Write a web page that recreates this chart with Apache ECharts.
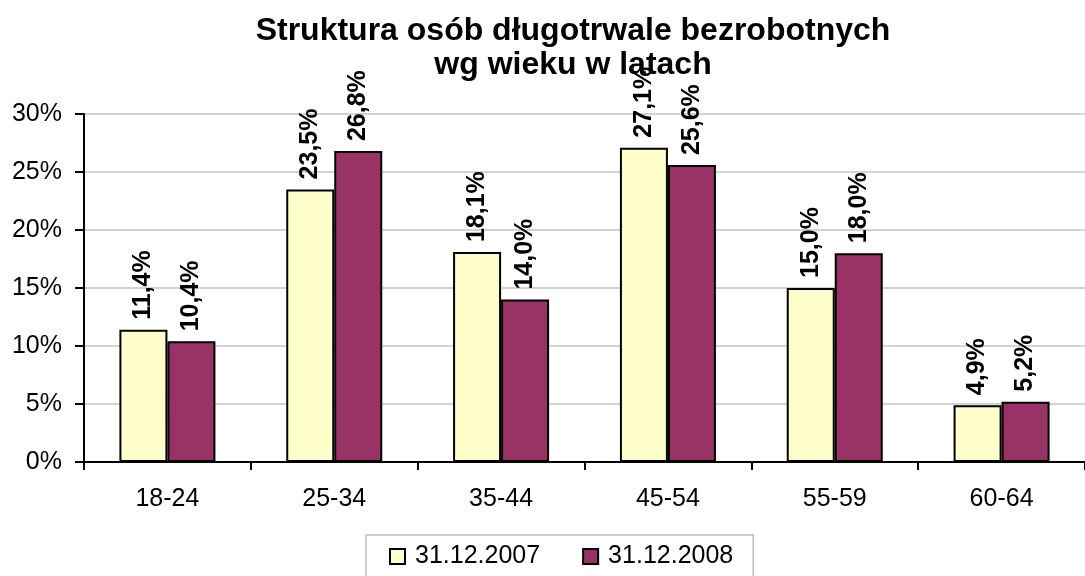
<!DOCTYPE html>
<html>
<head>
<meta charset="utf-8">
<script src="https://cdn.jsdelivr.net/npm/echarts@6/dist/echarts.min.js"></script>
<style>
  html, body { margin: 0; padding: 0; background: #ffffff; }
  #chart { width: 1085px; height: 576px; }
</style>
</head>
<body>
<div id="chart"></div>
<script>
// Age groups (years)
const categories = ['18-24', '25-34', '35-44', '45-54', '55-59', '60-64'];
// Share of long-term unemployed by age group, %
const values2007 = [11.4, 23.5, 18.1, 27.1, 15.0, 4.9];
const values2008 = [10.4, 26.8, 14.0, 25.6, 18.0, 5.2];
const seriesNames = ['31.12.2007', '31.12.2008'];
const titleLines = ['Struktura osób długotrwale bezrobotnych', 'wg wieku w latach'];

const FONT = '"Liberation Sans", Arial, sans-serif';

const pct = v => v.toFixed(1).replace('.', ',') + '%';

function barSeries(name, data, color) {
  return {
    name: name,
    type: 'bar',
    data: data,
    barWidth: 48,
    barGap: '0%',
    itemStyle: { color: color, borderColor: '#000000', borderWidth: 2 },
    label: {
      show: true,
      position: 'top',
      rotate: 90,
      align: 'left',
      verticalAlign: 'middle',
      distance: 10,
      formatter: p => pct(p.value),
      fontFamily: FONT,
      fontWeight: 'bold',
      fontSize: 25,
      color: '#000000'
    }
  };
}

const chart = echarts.init(document.getElementById('chart'), null, { renderer: 'canvas' });
chart.setOption({
  backgroundColor: '#ffffff',
  animation: false,
  title: {
    text: titleLines.join('\n'),
    left: 568,
    textAlign: 'center',
    top: 9,
    textStyle: {
      fontFamily: FONT,
      fontWeight: 'bold',
      fontSize: 32,
      lineHeight: 34,
      color: '#000000'
    }
  },
  legend: {
    data: seriesNames,
    left: 366,
    top: 535,
    padding: [9, 20, 30, 23],
    borderColor: '#bcbcbc',
    borderWidth: 1.5,
    icon: 'rect',
    itemWidth: 15,
    itemHeight: 15,
    itemGap: 42,
    selectedMode: false,
    textStyle: {
      fontFamily: FONT,
      fontSize: 25,
      color: '#000000',
      padding: [0, 0, 0, 5]
    }
  },
  grid: { left: 84, top: 114, width: 1008, height: 348, containLabel: false },
  xAxis: {
    type: 'category',
    data: categories,
    axisLine: { lineStyle: { color: '#000000', width: 2 } },
    axisTick: { show: true, length: 8, lineStyle: { color: '#000000', width: 2 } },
    axisLabel: { fontFamily: FONT, fontSize: 25, color: '#000000', margin: 25 }
  },
  yAxis: {
    type: 'value',
    min: 0,
    max: 30,
    interval: 5,
    axisLine: { show: true, lineStyle: { color: '#000000', width: 2 } },
    axisTick: { show: true, length: 9, lineStyle: { color: '#000000', width: 2 } },
    axisLabel: { fontFamily: FONT, fontSize: 25, color: '#000000', margin: 22, formatter: '{value}%' },
    splitLine: { show: true, lineStyle: { color: '#c4c4c4', width: 1.5 } }
  },
  series: [
    barSeries(seriesNames[0], values2007, '#FFFFCC'),
    barSeries(seriesNames[1], values2008, '#993366')
  ]
});
</script>
</body>
</html>
